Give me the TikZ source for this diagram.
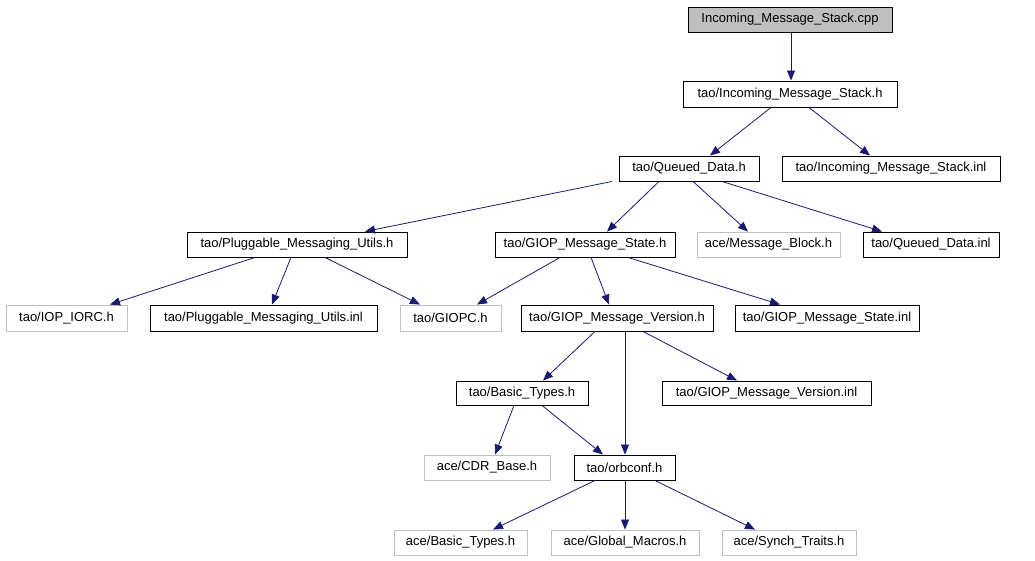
\documentclass[tikz,border=0pt]{standalone}
\usepackage{fontspec}
\setmainfont{Liberation Sans}
\usetikzlibrary{arrows.meta}
\definecolor{edgeblue}{HTML}{191970}
\definecolor{lightgrayb}{HTML}{BFBFBF}
\tikzset{
  box/.style={draw=black, line width=0.9pt, inner sep=0pt, minimum height=25pt, font=\fontsize{13}{15}\selectfont, text=black},
  extbox/.style={box, draw=lightgrayb},
  rootbox/.style={box, fill=lightgrayb},
  dep/.style={draw=edgeblue, line width=0.8pt, -{Triangle[length=10pt,width=8pt]}}
}
\begin{document}
\begin{tikzpicture}[x=1pt,y=-1pt]
\useasboundingbox (0,0) rectangle (1035,560);
% row 1
\node[rootbox, minimum width=204pt] (cpp) at (790,19.5) {Incoming\_Message\_Stack.cpp};
% row 2
\node[box, minimum width=214pt, minimum height=26pt] (ims) at (790,94) {tao/Incoming\_Message\_Stack.h};
% row 3
\node[box, minimum width=140pt] (qd) at (689,168.5) {tao/Queued\_Data.h};
\node[box, minimum width=218pt] (imsinl) at (891,168.5) {tao/Incoming\_Message\_Stack.inl};
% row 4
\node[box, minimum width=220pt] (pmu) at (297,244.5) {tao/Pluggable\_Messaging\_Utils.h};
\node[box, minimum width=180pt] (gms) at (585,244.5) {tao/GIOP\_Message\_State.h};
\node[extbox, minimum width=143pt] (mb) at (768.5,244.5) {ace/Message\_Block.h};
\node[box, minimum width=136pt] (qdinl) at (931,244.5) {tao/Queued\_Data.inl};
% row 5
\node[extbox, minimum width=121pt, minimum height=26pt] (iop) at (66.5,318) {tao/IOP\_IORC.h};
\node[box, minimum width=227pt, minimum height=26pt] (pmuinl) at (263.5,318) {tao/Pluggable\_Messaging\_Utils.inl};
\node[extbox, minimum width=101pt, minimum height=26pt] (giopc) at (450.5,318) {tao/GIOPC.h};
\node[box, minimum width=192pt, minimum height=26pt] (gmv) at (617,318) {tao/GIOP\_Message\_Version.h};
\node[box, minimum width=184pt, minimum height=26pt] (gmsinl) at (827,318) {tao/GIOP\_Message\_State.inl};
% row 6
\node[box, minimum width=132pt, minimum height=24pt] (bt) at (522,393) {tao/Basic\_Types.h};
\node[box, minimum width=209pt, minimum height=24pt] (gmvinl) at (766.5,393) {tao/GIOP\_Message\_Version.inl};
% row 7
\node[extbox, minimum width=126pt] (cdr) at (487,467.5) {ace/CDR\_Base.h};
\node[box, minimum width=101pt] (orb) at (624.5,467.5) {tao/orbconf.h};
% row 8
\node[extbox, minimum width=133pt] (abt) at (460.5,542.5) {ace/Basic\_Types.h};
\node[extbox, minimum width=148pt] (glob) at (625,542.5) {ace/Global\_Macros.h};
\node[extbox, minimum width=134pt] (synch) at (789,542.5) {ace/Synch\_Traits.h};
% edges
\draw[dep] ([xshift=1pt]cpp.south) -- ([xshift=1pt]ims.north);
\draw[dep] ([xshift=-19pt]ims.south) -- ([xshift=21pt]qd.north);
\draw[dep] ([xshift=19pt]ims.south) -- ([xshift=-21pt]imsinl.north);
\draw[dep] ([xshift=-77pt]qd.south) -- ([xshift=68pt]pmu.north);
\draw[dep] ([xshift=-30pt]qd.south) -- ([xshift=22pt]gms.north);
\draw[dep] ([xshift=4pt]qd.south) -- ([xshift=-20.5pt]mb.north);
\draw[dep] ([xshift=33pt]qd.south) -- ([xshift=-49pt]qdinl.north);
\draw[dep] ([xshift=-42pt]pmu.south) -- ([xshift=43.5pt]iop.north);
\draw[dep] ([xshift=-6pt]pmu.south) -- ([xshift=8.5pt]pmuinl.north);
\draw[dep] ([xshift=28pt]pmu.south) -- ([xshift=-30.5pt]giopc.north);
\draw[dep] ([xshift=-25pt]gms.south) -- ([xshift=26.5pt]giopc.north);
\draw[dep] ([xshift=6pt]gms.south) -- ([xshift=-8pt]gmv.north);
\draw[dep] ([xshift=43pt]gms.south) -- ([xshift=-47pt]gmsinl.north);
\draw[dep] ([xshift=-22pt]gmv.south) -- ([xshift=21pt]bt.north);
\draw[dep] ([xshift=8pt]gmv.south) -- ([xshift=0.5pt]orb.north);
\draw[dep] ([xshift=26pt]gmv.south) -- ([xshift=-29.5pt]gmvinl.north);
\draw[dep] ([xshift=-8pt]bt.south) -- ([xshift=8pt]cdr.north);
\draw[dep] ([xshift=20pt]bt.south) -- ([xshift=-21.5pt]orb.north);
\draw[dep] ([xshift=-29.5pt]orb.south) -- ([xshift=32.5pt]abt.north);
\draw[dep] ([xshift=0.5pt]orb.south) -- ([xshift=0pt]glob.north);
\draw[dep] ([xshift=30.5pt]orb.south) -- ([xshift=-34pt]synch.north);
\end{tikzpicture}
\end{document}
